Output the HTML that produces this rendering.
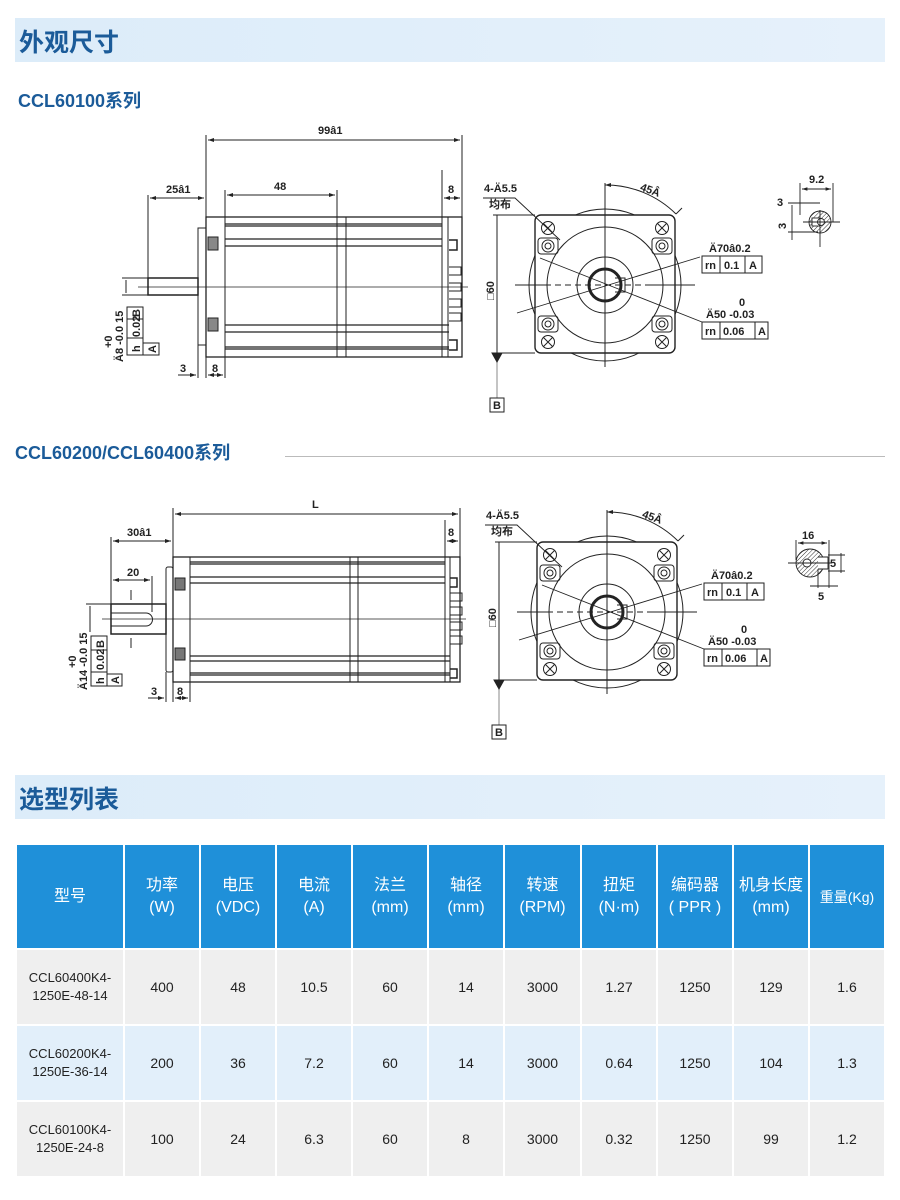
<!DOCTYPE html>
<html><head><meta charset="utf-8">
<style>
body{margin:0;background:#fff;width:900px;height:1200px;position:relative;overflow:hidden;font-family:"Liberation Sans","Noto Sans CJK SC",sans-serif}
.bar{position:absolute;left:15px;width:870px;height:44px;background:linear-gradient(90deg,#dcecf9,#e6f1fb)}
.bar span{position:absolute;left:4px;top:5px;font-size:25px;font-weight:bold;color:#1b5b99}
.sub{position:absolute;font-size:18px;font-weight:bold;color:#1b5b99}
table{position:absolute;left:15px;top:845px;border-collapse:collapse;width:869px;table-layout:fixed}
td,th{text-align:center;border:2px solid #fff;padding:0;font-size:14px;color:#222}
th{background:#1f90d9;color:#fff;font-weight:normal;font-size:16px;height:103px;line-height:22px;border-top:none}
tr.g td{background:#efefef}
tr.b td{background:#e2effa}
td{height:74px;line-height:18px}
td:first-child{font-size:13px}
svg{position:absolute;left:0;top:0}
svg text{font-family:"Liberation Sans","Noto Sans CJK SC",sans-serif;font-size:11px;font-weight:bold;fill:#222}
</style></head><body>
<div class="bar" style="top:18px"><span>外观尺寸</span></div>
<div class="sub" style="left:18px;top:87px">CCL60100系列</div>
<div class="sub" style="left:15px;top:439px">CCL60200/CCL60400系列</div>
<div style="position:absolute;left:285px;top:456px;width:600px;height:1px;background:#bbb"></div>
<div class="bar" style="top:775px"><span>选型列表</span></div>

<svg width="900" height="780" viewBox="0 0 900 780">
<defs>
<marker id="a" markerWidth="6" markerHeight="6" refX="6" refY="3" orient="auto-start-reverse"><path d="M0,1 L6,3 L0,5z" fill="#222"/></marker>
<pattern id="h" width="3" height="3" patternUnits="userSpaceOnUse" patternTransform="rotate(45)"><line x1="0" y1="0" x2="0" y2="3" stroke="#333" stroke-width="1"/></pattern>
<g id="front" fill="none" stroke="#222" stroke-width="1">
<circle cx="605" cy="285" r="76"/>
<rect x="535" y="215" width="140" height="138" rx="6" fill="#fff" stroke-width="1.4"/>
<circle cx="605" cy="285" r="58"/>
<circle cx="605" cy="285" r="28"/>
<circle cx="605" cy="285" r="16" stroke-width="3"/>
<path d="M615,278 L625,278 L625,292 L615,292"/>
<g id="hl"><circle cx="548" cy="228" r="6.5"/><path d="M543.5,223.5 l9,9 M552.5,223.5 l-9,9"/>
<rect x="538" y="238" width="20" height="16" rx="3"/><circle cx="548" cy="246" r="6"/><circle cx="548" cy="246" r="3"/></g>
<use href="#hl" transform="translate(114,0)"/>
<use href="#hl" transform="translate(0,570) scale(1,-1)"/>
<use href="#hl" transform="translate(114,570) scale(1,-1)"/>
<line x1="515" y1="285" x2="545" y2="285"/><line x1="545" y1="285" x2="650" y2="285" stroke-dasharray="6,4"/><line x1="650" y1="285" x2="695" y2="285"/>
<line x1="605" y1="183" x2="605" y2="367"/>
<path d="M605,185 A100,100 0 0 1 676,214" marker-start="url(#a)"/>
<line x1="676" y1="214" x2="682" y2="208"/>
<line x1="540" y1="258" x2="702" y2="322" stroke-width="0.9"/>
<line x1="517" y1="313" x2="700" y2="257" stroke-width="0.9"/>
<path d="M483,198 L515,198 L560,240" stroke-width="0.9"/>
<rect x="702" y="256" width="60" height="17"/><line x1="720" y1="256" x2="720" y2="273"/><line x1="745" y1="256" x2="745" y2="273"/>
<rect x="702" y="322" width="66" height="17"/><line x1="720" y1="322" x2="720" y2="339"/><line x1="755" y1="322" x2="755" y2="339"/>
<line x1="493" y1="215" x2="535" y2="215"/><line x1="493" y1="353" x2="535" y2="353"/>
<line x1="497" y1="215" x2="497" y2="353"/><line x1="497" y1="353" x2="497" y2="398" stroke="#888"/>
<path d="M492,353 L502,353 L497,362z" fill="#222"/>
<rect x="490" y="398" width="14" height="14"/>
</g>
<g id="ftext">
<text x="484" y="192">4-Ä5.5</text><text x="489" y="208">均布</text>
<text x="640" y="193" transform="rotate(20 648 190)">45Â</text>
<text x="709" y="252">Ä70â0.2</text>
<text x="705" y="269" font-weight="normal">rn</text><text x="724" y="269">0.1</text><text x="749" y="269" font-weight="normal">A</text>
<text x="739" y="306" font-weight="normal">0</text><text x="706" y="318">Ä50 -0.03</text>
<text x="705" y="335" font-weight="normal">rn</text><text x="723" y="335">0.06</text><text x="758" y="335" font-weight="normal">A</text>
<text x="493" y="409" font-weight="normal">B</text>
<text transform="translate(494,300) rotate(-90)" font-weight="normal">□60</text>
</g>
</defs>

<g fill="none" stroke="#222" stroke-width="1">
<rect x="206" y="217" width="256" height="140" stroke-width="1.3"/>
<rect x="198" y="228" width="8" height="117"/>
<rect x="148" y="278" width="50" height="17" stroke-width="1.5"/>
<line x1="225" y1="217" x2="225" y2="357"/>
<line x1="337" y1="217" x2="337" y2="357"/><line x1="346" y1="217" x2="346" y2="357"/>
<line x1="442" y1="217" x2="442" y2="357"/><line x1="448" y1="217" x2="448" y2="357"/>
<path d="M225,224H442 M225,226H442 M225,239H442 M225,246H442 M225,325H449 M225,332H449 M225,347H449 M225,349H449" stroke-width="1.2"/>
<rect x="208" y="237" width="10" height="13" fill="#888"/><rect x="208" y="318" width="10" height="13" fill="#888"/>
<path d="M449,240h8v10h-8 M449,340h8v10h-8" stroke-width="1.5"/>
<path d="M449,267h12v8h-12 M449,283h12v8h-12 M449,299h12v8h-12 M449,313h12v8h-12"/>
<line x1="138" y1="287" x2="468" y2="287" stroke-width="0.8"/>
<line x1="206" y1="135" x2="206" y2="217"/><line x1="462" y1="135" x2="462" y2="217"/>
<line x1="208" y1="140" x2="460" y2="140" marker-start="url(#a)" marker-end="url(#a)"/>
<line x1="148" y1="195" x2="148" y2="278"/>
<line x1="150" y1="198" x2="204" y2="198" marker-start="url(#a)" marker-end="url(#a)"/>
<line x1="225" y1="190" x2="225" y2="217"/><line x1="337" y1="190" x2="337" y2="217"/>
<line x1="227" y1="195" x2="335" y2="195" marker-start="url(#a)" marker-end="url(#a)"/>
<line x1="442" y1="170" x2="442" y2="217"/>
<line x1="444" y1="198" x2="460" y2="198" marker-start="url(#a)" marker-end="url(#a)"/>
<line x1="198" y1="345" x2="198" y2="378"/><line x1="206" y1="357" x2="206" y2="378"/><line x1="225" y1="357" x2="225" y2="378"/>
<line x1="178" y1="375" x2="196" y2="375" marker-end="url(#a)"/><line x1="208" y1="375" x2="223" y2="375" marker-start="url(#a)" marker-end="url(#a)"/>
<line x1="122" y1="278" x2="148" y2="278"/><line x1="122" y1="295" x2="148" y2="295"/><line x1="126" y1="280" x2="126" y2="293"/>
<rect x="127" y="307" width="16" height="48"/><line x1="127" y1="319" x2="143" y2="319"/><line x1="127" y1="338" x2="143" y2="338"/><rect x="143" y="343" width="16" height="12"/>
</g>
<text x="318" y="134">99â1</text><text x="166" y="193">25â1</text><text x="274" y="190">48</text><text x="448" y="193">8</text>
<text x="180" y="372">3</text><text x="212" y="372">8</text>
<g font-weight="normal">
<text transform="translate(140,317) rotate(-90)">B</text>
<text transform="translate(140,337) rotate(-90)">0.02</text>
<text transform="translate(140,352) rotate(-90)">h</text>
<text transform="translate(156,353) rotate(-90)">A</text>
<text transform="translate(123,362) rotate(-90)">Ä8 -0.0 15</text>
<text transform="translate(112,348) rotate(-90)">+0</text>
</g>

<use href="#front"/><use href="#ftext"/>
<g fill="none" stroke="#222" stroke-width="0.9">
<circle cx="820" cy="222" r="11" fill="url(#h)"/>
<rect x="812" y="218" width="8" height="8" fill="#fff"/><circle cx="821" cy="222" r="3.5" fill="#fff"/>
<line x1="800" y1="183" x2="800" y2="215"/><line x1="833" y1="183" x2="833" y2="222"/>
<line x1="802" y1="189" x2="831" y2="189" marker-start="url(#a)" marker-end="url(#a)"/>
<line x1="788" y1="203" x2="820" y2="203"/><line x1="788" y1="232" x2="818" y2="232"/>
<line x1="792" y1="205" x2="792" y2="240"/><line x1="803" y1="222" x2="840" y2="222"/><line x1="820" y1="210" x2="820" y2="247"/>
</g>
<text x="809" y="183">9.2</text><text x="777" y="206">3</text><text transform="translate(786,229) rotate(-90)">3</text>

<g fill="none" stroke="#222" stroke-width="1">
<rect x="173" y="557" width="287" height="125" stroke-width="1.3"/>
<rect x="166" y="567" width="7" height="105" rx="2"/>
<rect x="111" y="604" width="55" height="30" stroke-width="1.5"/>
<path d="M111,613H146a6,6 0 0 1 0,13H111"/>
<line x1="190" y1="557" x2="190" y2="682"/>
<line x1="350" y1="557" x2="350" y2="682"/><line x1="358" y1="557" x2="358" y2="682"/>
<line x1="445" y1="557" x2="445" y2="682"/><line x1="450" y1="557" x2="450" y2="682"/>
<path d="M190,562H445 M190,564H445 M190,577H445 M190,583H445 M190,656H450 M190,661H450 M190,673H450 M190,675H450" stroke-width="1.2"/>
<rect x="175" y="578" width="10" height="12" fill="#777"/><rect x="175" y="648" width="10" height="12" fill="#777"/>
<path d="M450,578h7v9h-7 M450,669h7v9h-7" stroke-width="1.5"/>
<path d="M450,593h12v8h-12 M450,607h12v8h-12 M450,622h12v8h-12 M450,636h12v8h-12"/>
<line x1="102" y1="619" x2="466" y2="619" stroke-width="0.8"/>
<line x1="131" y1="590" x2="131" y2="600"/><line x1="131" y1="638" x2="131" y2="648"/>
<line x1="173" y1="508" x2="173" y2="557"/><line x1="460" y1="508" x2="460" y2="557"/>
<line x1="175" y1="514" x2="458" y2="514" marker-start="url(#a)" marker-end="url(#a)"/>
<line x1="111" y1="537" x2="111" y2="604"/>
<line x1="113" y1="541" x2="171" y2="541" marker-start="url(#a)" marker-end="url(#a)"/>
<line x1="152" y1="576" x2="152" y2="612"/>
<line x1="113" y1="580" x2="150" y2="580" marker-start="url(#a)" marker-end="url(#a)"/>
<line x1="445" y1="520" x2="445" y2="557"/>
<line x1="447" y1="541" x2="458" y2="541" marker-start="url(#a)" marker-end="url(#a)"/>
<line x1="166" y1="672" x2="166" y2="702"/><line x1="173" y1="682" x2="173" y2="702"/><line x1="190" y1="682" x2="190" y2="702"/>
<line x1="148" y1="698" x2="164" y2="698" marker-end="url(#a)"/><line x1="175" y1="698" x2="188" y2="698" marker-start="url(#a)" marker-end="url(#a)"/>
<line x1="86" y1="604" x2="111" y2="604"/><line x1="90" y1="606" x2="90" y2="632"/>
<rect x="91" y="636" width="16" height="50"/><line x1="91" y1="650" x2="107" y2="650"/><line x1="91" y1="672" x2="107" y2="672"/><rect x="107" y="674" width="15" height="12"/>
</g>
<text x="312" y="508">L</text><text x="127" y="536">30â1</text><text x="127" y="576">20</text><text x="448" y="536">8</text>
<text x="151" y="695">3</text><text x="177" y="695">8</text>
<g font-weight="normal">
<text transform="translate(104,648) rotate(-90)">B</text>
<text transform="translate(104,670) rotate(-90)">0.02</text>
<text transform="translate(104,684) rotate(-90)">h</text>
<text transform="translate(119,684) rotate(-90)">A</text>
<text transform="translate(87,690) rotate(-90)">Ä14 -0.0 15</text>
<text transform="translate(76,668) rotate(-90)">+0</text>
</g>

<g transform="translate(2,327)"><use href="#front"/><use href="#ftext"/></g>
<g fill="none" stroke="#222" stroke-width="0.9">
<circle cx="810" cy="563" r="14" fill="url(#h)"/>
<circle cx="807" cy="563" r="4" fill="#fff"/>
<path d="M818,557 L828,557 L828,569 L818,569" fill="#fff"/>
<line x1="796" y1="540" x2="796" y2="560"/><line x1="829" y1="540" x2="829" y2="588"/>
<line x1="798" y1="543" x2="827" y2="543" marker-start="url(#a)" marker-end="url(#a)"/>
<line x1="828" y1="555" x2="845" y2="555"/><line x1="828" y1="571" x2="845" y2="571"/><line x1="841" y1="553" x2="841" y2="573"/>
<line x1="818" y1="569" x2="818" y2="588"/><line x1="810" y1="586" x2="838" y2="586"/>
<line x1="788" y1="563" x2="832" y2="563"/>
</g>
<text x="802" y="539">16</text><text x="830" y="567">5</text><text x="818" y="600">5</text>
</svg>

<table>
<colgroup><col style="width:108px"><col style="width:76px"><col style="width:76px"><col style="width:76px"><col style="width:76px"><col style="width:76px"><col style="width:77px"><col style="width:76px"><col style="width:76px"><col style="width:76px"><col style="width:76px"></colgroup>
<tr><th>型号</th><th>功率<br>(W)</th><th>电压<br>(VDC)</th><th>电流<br>(A)</th><th>法兰<br>(mm)</th><th>轴径<br>(mm)</th><th>转速<br>(RPM)</th><th>扭矩<br>(N·m)</th><th>编码器<br>( PPR )</th><th>机身长度<br>(mm)</th><th style="font-size:14px">重量(Kg)</th></tr>
<tr class="g"><td>CCL60400K4-<br>1250E-48-14</td><td>400</td><td>48</td><td>10.5</td><td>60</td><td>14</td><td>3000</td><td>1.27</td><td>1250</td><td>129</td><td>1.6</td></tr>
<tr class="b"><td>CCL60200K4-<br>1250E-36-14</td><td>200</td><td>36</td><td>7.2</td><td>60</td><td>14</td><td>3000</td><td>0.64</td><td>1250</td><td>104</td><td>1.3</td></tr>
<tr class="g"><td>CCL60100K4-<br>1250E-24-8</td><td>100</td><td>24</td><td>6.3</td><td>60</td><td>8</td><td>3000</td><td>0.32</td><td>1250</td><td>99</td><td>1.2</td></tr>
</table>
</body></html>
